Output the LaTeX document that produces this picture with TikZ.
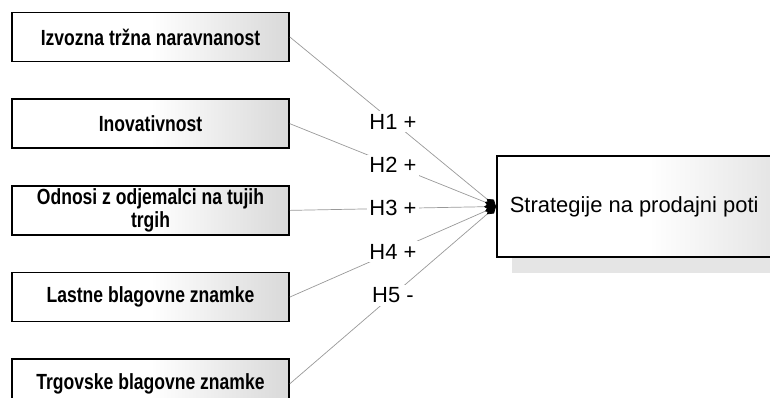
\documentclass[tikz,border=0pt]{standalone}
\usepackage{fontspec}
\setmainfont{Liberation Sans}
\newfontfamily\narrowfont[FakeStretch=0.8]{Liberation Sans}
\usetikzlibrary{arrows.meta,positioning}

\begin{document}
\begin{tikzpicture}[
        node distance=0.9cm,
        factor/.style={draw=black, line width=1.2pt, left color=white, right color=gray!30, middle color=white,
            minimum width=6.925cm, minimum height=1.225cm, inner sep=0pt, align=center,
            font=\narrowfont\bfseries\fontsize{15.6}{16.4}\selectfont},
        outcome/.style={draw=black, line width=1.2pt, left color=white, right color=gray!25, middle color=white,
            minimum width=7.6cm, minimum height=2.525cm, inner xsep=0.325cm, text width=6.95cm, align=flush left,
            font=\fontsize{15.6}{18}\selectfont},
        hyp/.style={gray!80, line width=0.5pt, -{Diamond[length=0.3cm,width=0.2cm,color=black]}},
        hyplabel/.style={fill=white, text=black, inner sep=2pt, font=\fontsize{15.6}{18}\selectfont}
    ]
        \useasboundingbox (0,0) rectangle (19.25,9.925);

        % Factors
        \node[factor] (tsn) at (3.7625,9.0) {Izvozna tržna naravnanost};
        \node[factor, below=of tsn] (ino) {Inovativnost};
        \node[factor, below=of ino] (odn) {Odnosi z odjemalci na tujih\\trgih};
        \node[factor, below=of odn] (lbz) {Lastne blagovne znamke};
        \node[factor, below=of lbz] (tbz) {Trgovske blagovne znamke};

        % Outcome with shadow
        \fill[gray!20] (12.8,3.1) rectangle (20,4.5);
        \node[outcome, anchor=west] (strat) at (12.4,4.7625) {Strategije na prodajni poti};

        % Hypotheses
        \draw[hyp] (tsn.east) -- node[hyplabel] {H1 +} (strat.west);
        \draw[hyp] (ino.east) -- node[hyplabel] {H2 +} (strat.west);
        \draw[hyp] (odn.east) -- node[hyplabel] {H3 +} (strat.west);
        \draw[hyp] (lbz.east) -- node[hyplabel] {H4 +} (strat.west);
        \draw[hyp] (tbz.east) -- node[hyplabel] {H5 -} (strat.west);
    \end{tikzpicture}
\end{document}
